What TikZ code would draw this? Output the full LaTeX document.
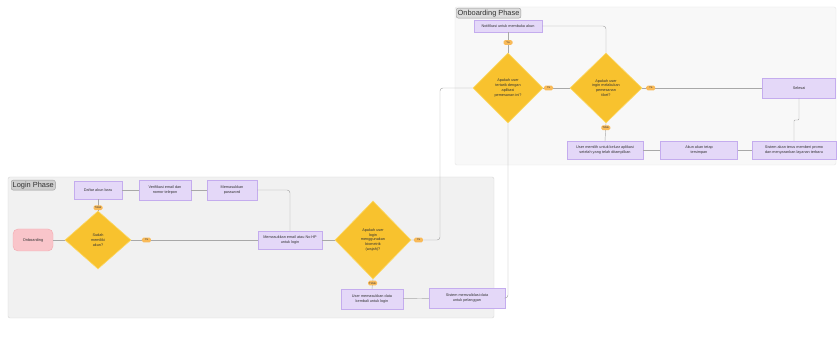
\documentclass[tikz,border=0pt]{standalone}
\usepackage{fontspec}
\setmainfont{Liberation Sans}
\usetikzlibrary{shapes.geometric}
\definecolor{boxfill}{HTML}{E4D8F8}
\definecolor{boxdraw}{HTML}{C4ACEE}
\definecolor{gold}{HTML}{F8C22E}
\definecolor{golddraw}{HTML}{FCD866}
\definecolor{pill}{HTML}{F9BA58}
\definecolor{pinkfill}{HTML}{F9C5CA}
\definecolor{pinkdraw}{HTML}{F3A9B0}
\definecolor{linecol}{HTML}{A8A8A8}
\definecolor{panelA}{HTML}{F1F1F1}
\definecolor{panelB}{HTML}{F8F8F8}
\definecolor{paneldraw}{HTML}{D6D6D6}
\definecolor{titlefill}{HTML}{CFCFCF}
\definecolor{titledraw}{HTML}{9A9A9A}
\tikzset{
  proc/.style={draw=boxdraw, fill=boxfill, line width=0.4pt, align=center,
    font=\fontsize{3.8}{4.6}\selectfont, inner sep=0.8pt, text=black!80},
  decision/.style={diamond, fill=gold, draw=golddraw, line width=0.6pt,
    inner sep=0pt, align=center, font=\fontsize{3.8}{4.8}\selectfont, text=black!80},
  startbox/.style={draw=pinkdraw, fill=pinkfill, rounded corners=5pt, align=center,
    font=\fontsize{3.9}{4.6}\selectfont, inner sep=1pt, text=black!80},
  lbl/.style={fill=pill, rounded corners=1.5pt, font=\fontsize{2.8}{3}\selectfont,
    inner sep=0.6pt, minimum width=9pt, minimum height=4.8pt, text=black!75},
  conn/.style={draw=linecol, line width=0.45pt, rounded corners=3pt},
  titlebox/.style={fill=titlefill, draw=titledraw, rounded corners=2pt,
    font=\fontsize{7.4}{8}\selectfont, inner sep=1.5pt, text=black!80},
}
\begin{document}
\begin{tikzpicture}[x=1pt,y=-1pt]
\useasboundingbox (0,0) rectangle (838,347);
\fill[white] (0,0) rectangle (838,347);
% panels
\draw[fill=panelA, draw=paneldraw, line width=0.4pt, rounded corners=2pt] (8,177) rectangle (494,318);
\draw[fill=panelB, draw=paneldraw!60, line width=0.4pt, rounded corners=2pt] (455,7) rectangle (836,165);
\node[titlebox, anchor=north west] (tlogin) at (11,180) {Login Phase};
\node[titlebox, anchor=north west, fill=titlefill!70] (tonb) at (456,8) {Onboarding Phase};

% login nodes
\node[startbox, minimum width=40pt, minimum height=22pt] (start) at (33,240) {Onboarding};
\node[decision, minimum width=66pt, minimum height=58pt] (dA) at (98,240) {Sudah\\memiliki\\akun?};
\node[proc, minimum width=48pt, minimum height=18pt] (daftar) at (98,190) {Daftar akun baru};
\node[proc, minimum width=52pt, minimum height=20pt] (verif) at (165,190) {Verifikasi email dan\\nomor telepon};
\node[proc, minimum width=50pt, minimum height=20pt] (pw) at (232,190) {Memasukkan\\password};
\node[proc, minimum width=64pt, minimum height=18pt] (email) at (290,240) {Memasukkan email atau No HP\\untuk login};
\node[decision, minimum width=76pt, minimum height=78pt] (dB) at (373,240) {Apakah user\\login\\menggunakan\\biometrik\\(wajah)?};
\node[proc, minimum width=62pt, minimum height=20pt] (ulang) at (372,299) {User memasukkan data\\kembali untuk login};
\node[proc, minimum width=76pt, minimum height=20pt] (sistem) at (467,298) {Sistem memvalidasi data\\untuk pelanggan};

% onboarding nodes
\node[proc, minimum width=68pt, minimum height=12pt] (notif) at (508,26) {Notifikasi untuk membuka akun};
\node[decision, minimum width=70pt, minimum height=70pt] (dC) at (508,88) {Apakah user\\tertarik dengan\\aplikasi\\pemesanan ini?};
\node[decision, minimum width=72pt, minimum height=70pt] (dD) at (606,88) {Apakah user\\ingin melakukan\\pemesanan\\tiket?};
\node[proc, minimum width=73pt, minimum height=20pt] (selesai) at (799,88) {Selesai};
\node[proc, minimum width=76pt, minimum height=18pt] (keluar) at (605,150) {User memilih untuk keluar aplikasi\\setelah yang telah ditampilkan};
\node[proc, minimum width=77pt, minimum height=18pt] (simpan) at (699,150) {Akun akan tetap\\tersimpan};
\node[proc, minimum width=84pt, minimum height=18pt] (promo) at (794,150) {Sistem akan terus memberi promo\\dan menyarankan layanan terbaru};

% login connectors
\draw[conn] (start) -- (dA);
\draw[conn] (dA.north) -- node[lbl, pos=0.25]{Tidak} (daftar.south);
\draw[conn] (dA.east) -- node[lbl, pos=0.12]{Ya} (email.west);
\draw[conn] (daftar) -- (verif);
\draw[conn] (verif) -- (pw);
\draw[conn] (pw.east) -| (email.north);
\draw[conn] (email) -- (dB);
\draw[conn] (dB.south) -- node[lbl, pos=0.4]{Tidak} (ulang.north);
\draw[conn] (ulang) -- (sistem);
\coordinate (j1) at (440,240);
\draw[conn] (dB.east) -- node[lbl, pos=0.25]{Ya} (j1) |- (dC.west);
\draw[conn] (sistem.east) -| (dC.south);

% onboarding connectors
\draw[conn] (notif.south) -- node[lbl, pos=0.5]{Ya} (dC.north);
\draw[conn] (notif.east) -| (dD.north);
\draw[conn] (dC.east) -- node[lbl, pos=0.2]{Ya} (dD.west);
\draw[conn] (dD.east) -- node[lbl, pos=0.07]{Ya} (selesai.west);
\draw[conn] (dD.south) -- node[lbl, pos=0.25]{Tidak} (keluar.north);
\draw[conn] (keluar) -- (simpan);
\draw[conn] (simpan) -- (promo);
\coordinate (j2) at (794,120);
\draw[conn, rounded corners=1pt] (promo.north) -- (j2) -| (selesai.south);
\end{tikzpicture}
\end{document}
